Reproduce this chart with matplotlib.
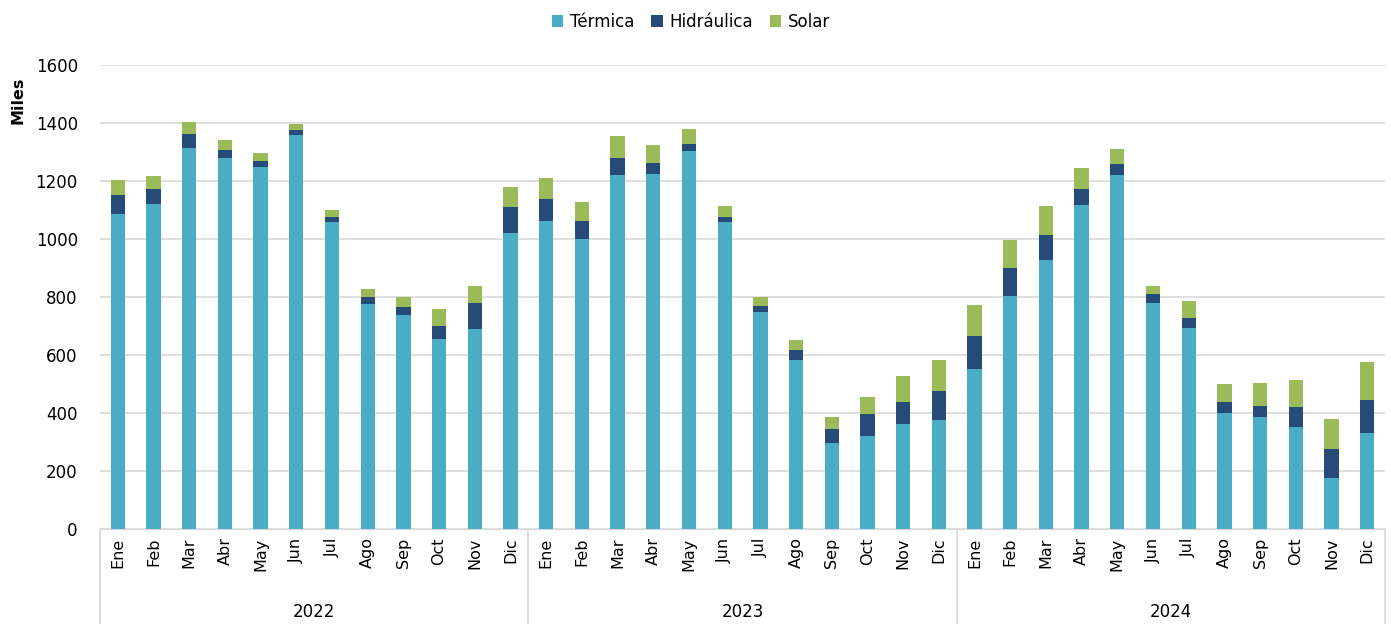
import matplotlib
matplotlib.use("Agg")
import matplotlib.pyplot as plt
import numpy as np

# datos (miles)
years = ["2022", "2023", "2024"]
months = ["Ene", "Feb", "Mar", "Abr", "May", "Jun", "Jul", "Ago", "Sep", "Oct", "Nov", "Dic"]

termica = [1085, 1121, 1315, 1281, 1250, 1358, 1058, 775, 739, 654, 691, 1020,
           1062, 999, 1221, 1226, 1302, 1058, 748, 582, 298, 321, 362, 376,
           553, 803, 928, 1119, 1221, 779, 695, 399, 386, 351, 177, 332]
hidraulica = [68, 53, 46, 27, 20, 17, 17, 25, 26, 48, 90, 91,
              75, 65, 60, 35, 27, 17, 21, 34, 47, 77, 76, 101,
              112, 98, 86, 55, 37, 31, 32, 39, 39, 71, 98, 112]
solar = [51, 44, 44, 33, 27, 20, 24, 28, 36, 56, 57, 70,
         74, 63, 74, 64, 49, 39, 31, 36, 40, 57, 90, 105,
         107, 96, 100, 70, 53, 28, 60, 63, 80, 93, 105, 133]

c_ter = "#4BACC6"
c_hid = "#264B78"
c_sol = "#9BBB59"

fig = plt.figure(figsize=(13.91, 6.24), dpi=100)
ax = fig.add_axes([0.0719, 0.152, 0.9238, 0.7438])

x = np.arange(len(termica))
t = np.array(termica)
h = np.array(hidraulica)
s = np.array(solar)
w = 0.4
ax.bar(x, t, w, color=c_ter, label="Térmica", zorder=3)
ax.bar(x, h, w, bottom=t, color=c_hid, label="Hidráulica", zorder=3)
ax.bar(x, s, w, bottom=t + h, color=c_sol, label="Solar", zorder=3)

ax.set_xlim(-0.5, len(x) - 0.5)
ax.set_ylim(0, 1600)
ax.set_yticks(range(0, 1601, 200))
ax.tick_params(axis="y", length=0, labelsize=12, pad=16)
ax.grid(axis="y", color="#D9D9D9", linewidth=1.2, zorder=0)
for sp in ["top", "right", "left"]:
    ax.spines[sp].set_visible(False)
ax.spines["bottom"].set_color("#D9D9D9")

ax.set_xticks(x)
ax.set_xticklabels(months * 3, rotation=90, fontsize=11.5)
ax.tick_params(axis="x", length=0, pad=6)

ax.set_ylabel("Miles", fontsize=11.5, fontweight="bold")
ax.yaxis.set_label_coords(-0.058, 0.925)

# separadores de años y etiquetas
trans = ax.get_xaxis_transform()
for b in [-0.5, 11.5, 23.5, 35.5]:
    ax.plot([b, b], [0, -0.21], color="#D9D9D9", lw=1.2, transform=trans, clip_on=False)
for i, yr in enumerate(years):
    ax.text(i * 12 + 5.5, -0.179, yr, transform=trans, ha="center", va="center", fontsize=12)

ax.legend(loc="upper center", bbox_to_anchor=(0.46, 1.145), ncol=3, frameon=False,
          fontsize=12, handlelength=0.7, handleheight=0.7, handletextpad=0.4, columnspacing=1.0)

fig.savefig("out.png", dpi=100)
